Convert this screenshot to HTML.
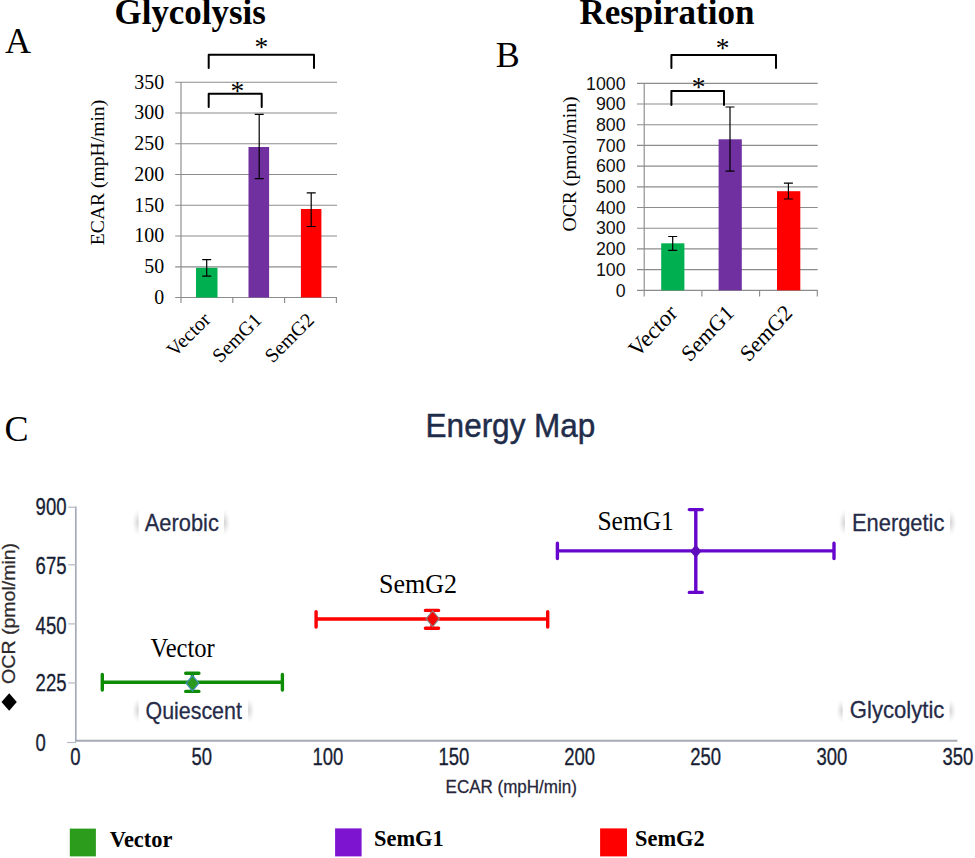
<!DOCTYPE html>
<html>
<head>
<meta charset="utf-8">
<title>Figure</title>
<style>
html,body{margin:0;padding:0;background:#fff;}
body{width:975px;height:858px;overflow:hidden;}
svg{display:block;}
.se{font-family:"Liberation Serif",serif;}
.sa{font-family:"Liberation Sans",sans-serif;}
</style>
</head>
<body>
<svg width="975" height="858" viewBox="0 0 975 858">
<rect x="0" y="0" width="975" height="858" fill="#ffffff"/>

<!-- ================= PANEL A ================= -->
<g id="panelA">
  <text class="se" x="114.6" y="24.4" font-size="34.9" font-weight="bold" fill="#000">Glycolysis</text>
  <text class="se" x="5" y="52.9" font-size="36" fill="#000">A</text>

  <!-- gridlines -->
  <g stroke="#8c8c8c" stroke-width="1.15" fill="none">
    <line x1="175.2" y1="82.2" x2="337" y2="82.2"/>
    <line x1="175.2" y1="113" x2="337" y2="113"/>
    <line x1="175.2" y1="143.7" x2="337" y2="143.7"/>
    <line x1="175.2" y1="174.5" x2="337" y2="174.5"/>
    <line x1="175.2" y1="205.2" x2="337" y2="205.2"/>
    <line x1="175.2" y1="236" x2="337" y2="236"/>
    <line x1="175.2" y1="266.8" x2="337" y2="266.8"/>
    <line x1="175.2" y1="297.5" x2="337" y2="297.5"/>
    <line x1="181" y1="82.2" x2="181" y2="303"/>
    <line x1="232.8" y1="297.5" x2="232.8" y2="303"/>
    <line x1="284.6" y1="297.5" x2="284.6" y2="303"/>
    <line x1="336.4" y1="297.5" x2="336.4" y2="303"/>
  </g>

  <!-- bars -->
  <rect x="196" y="267.8" width="21.5" height="29.7" fill="#00b050"/>
  <rect x="248.5" y="147" width="20.6" height="150.5" fill="#7030a0"/>
  <rect x="300.9" y="209" width="20.5" height="88.5" fill="#ff0000"/>

  <!-- error bars -->
  <g stroke="#000" stroke-width="1.2" fill="none">
    <path d="M206.7 259.6V276.2M202.2 259.6H211.2M202.2 276.2H211.2"/>
    <path d="M259.2 114.4V178.6M254.7 114.4H263.7M254.7 178.6H263.7"/>
    <path d="M311.2 192.8V226.5M306.7 192.8H315.7M306.7 226.5H315.7"/>
  </g>

  <!-- brackets -->
  <g stroke="#000" stroke-width="2" fill="none" stroke-linejoin="round" stroke-linecap="round">
    <path d="M208.7 68V54.7H314V68"/>
    <path d="M208.7 107V93.7H261.7V107"/>
  </g>
  <text class="se" x="261.3" y="55.8" font-size="27.5" text-anchor="middle" fill="#000">*</text>
  <text class="se" x="237.4" y="100.2" font-size="27.5" text-anchor="middle" fill="#000">*</text>

  <!-- y tick labels -->
  <g class="se" font-size="19.9" text-anchor="end" fill="#000">
    <text x="164.2" y="88.5">350</text>
    <text x="164.2" y="119.3">300</text>
    <text x="164.2" y="150">250</text>
    <text x="164.2" y="180.8">200</text>
    <text x="164.2" y="211.5">150</text>
    <text x="164.2" y="242.3">100</text>
    <text x="164.2" y="273.1">50</text>
    <text x="164.2" y="303.8">0</text>
  </g>
  <text class="se" font-size="19.6" text-anchor="middle" fill="#000" transform="translate(103.8 172.5) rotate(-90)">ECAR (mpH/min)</text>

  <!-- category labels -->
  <g class="se" font-size="20" text-anchor="end" fill="#000">
    <text transform="translate(211.6 320.8) rotate(-45)">Vector</text>
    <text transform="translate(262.8 321.2) rotate(-45)">SemG1</text>
    <text transform="translate(315.3 321.2) rotate(-45)">SemG2</text>
  </g>
</g>

<!-- ================= PANEL B ================= -->
<g id="panelB">
  <text class="se" x="579.4" y="24.4" font-size="35" font-weight="bold" fill="#000">Respiration</text>
  <text class="se" x="495.7" y="67.4" font-size="36" fill="#000">B</text>

  <g stroke="#8c8c8c" stroke-width="1.15" fill="none">
    <line x1="637" y1="83.3" x2="817.7" y2="83.3"/>
    <line x1="637" y1="104" x2="817.7" y2="104"/>
    <line x1="637" y1="124.7" x2="817.7" y2="124.7"/>
    <line x1="637" y1="145.4" x2="817.7" y2="145.4"/>
    <line x1="637" y1="166.1" x2="817.7" y2="166.1"/>
    <line x1="637" y1="186.8" x2="817.7" y2="186.8"/>
    <line x1="637" y1="207.5" x2="817.7" y2="207.5"/>
    <line x1="637" y1="228.2" x2="817.7" y2="228.2"/>
    <line x1="637" y1="248.9" x2="817.7" y2="248.9"/>
    <line x1="637" y1="269.6" x2="817.7" y2="269.6"/>
    <line x1="637" y1="290.3" x2="817.7" y2="290.3"/>
    <line x1="644.2" y1="83.3" x2="644.2" y2="296.4"/>
    <line x1="701.9" y1="290.3" x2="701.9" y2="296.4"/>
    <line x1="759.6" y1="290.3" x2="759.6" y2="296.4"/>
    <line x1="817.3" y1="290.3" x2="817.3" y2="296.4"/>
  </g>

  <rect x="661.2" y="243.3" width="23.2" height="47" fill="#00b050"/>
  <rect x="718.6" y="139.3" width="23.2" height="151" fill="#7030a0"/>
  <rect x="777" y="191.2" width="23.3" height="99.1" fill="#ff0000"/>

  <g stroke="#000" stroke-width="1.2" fill="none">
    <path d="M672.7 236.5V250.3M668.2 236.5H677.2M668.2 250.3H677.2"/>
    <path d="M730 107V171.2M725.5 107H734.5M725.5 171.2H734.5"/>
    <path d="M788.4 183.2V199M783.9 183.2H792.9M783.9 199H792.9"/>
  </g>

  <g stroke="#000" stroke-width="2" fill="none" stroke-linejoin="round" stroke-linecap="round">
    <path d="M671.4 68V55H776V68"/>
    <path d="M671.4 104.9V91H724V104.9"/>
  </g>
  <text class="se" x="722.7" y="57.2" font-size="27.5" text-anchor="middle" fill="#000">*</text>
  <text class="se" x="698.7" y="96.2" font-size="27.5" text-anchor="middle" fill="#000">*</text>

  <g class="sa" font-size="17.8" text-anchor="end" fill="#111">
    <text x="625.6" y="89.5">1000</text>
    <text x="625.6" y="110.2">900</text>
    <text x="625.6" y="130.9">800</text>
    <text x="625.6" y="151.6">700</text>
    <text x="625.6" y="172.3">600</text>
    <text x="625.6" y="193">500</text>
    <text x="625.6" y="213.7">400</text>
    <text x="625.6" y="234.4">300</text>
    <text x="625.6" y="255.1">200</text>
    <text x="625.6" y="275.8">100</text>
    <text x="625.6" y="296.5">0</text>
  </g>
  <text class="se" font-size="19.7" text-anchor="middle" fill="#000" transform="translate(575.6 164) rotate(-90)">OCR (pmol/min)</text>

  <g class="se" font-size="21.8" text-anchor="end" fill="#000">
    <text font-size="22.8" transform="translate(678.4 314.4) scale(0.975 1.05) rotate(-45)">Vector</text>
    <text transform="translate(734.9 314.2) scale(0.975 1.05) rotate(-45)">SemG1</text>
    <text transform="translate(793.5 314.2) scale(0.975 1.05) rotate(-45)">SemG2</text>
  </g>
</g>

<!-- ================= PANEL C ================= -->
<g id="panelC">
  <text class="se" x="4.5" y="440.5" font-size="36" fill="#000">C</text>
  <text class="sa" font-size="31.5" fill="#1f2d4a" stroke="#1f2d4a" stroke-width="0.45" text-anchor="middle" transform="translate(510.5 436.7) scale(1 1.05)">Energy Map</text>

  <!-- axes -->
  <g stroke="#a4abb8" fill="none">
    <line x1="75.8" y1="506.5" x2="75.8" y2="741.6" stroke-width="1.7"/>
    <line x1="75" y1="740.8" x2="957.4" y2="740.8" stroke-width="2" stroke="#a5a9b4"/>
    <g stroke-width="1.2" stroke="#b4b8c0">
      <line x1="68.2" y1="507.2" x2="76" y2="507.2"/>
      <line x1="68.2" y1="564.8" x2="76" y2="564.8"/>
      <line x1="68.2" y1="623.9" x2="76" y2="623.9"/>
      <line x1="68.2" y1="683" x2="76" y2="683"/>
      <line x1="67" y1="742.5" x2="76" y2="742.5"/>
    </g>
  </g>

  <!-- y tick labels -->
  <g class="sa" font-size="18.5" fill="#181e34" stroke="#181e34" stroke-width="0.25">
    <text transform="translate(35.6 515) scale(1 1.31)">900</text>
    <text transform="translate(35.6 574.4) scale(1 1.31)">675</text>
    <text transform="translate(35.6 633.7) scale(1 1.31)">450</text>
    <text transform="translate(35.6 690.8) scale(1 1.31)">225</text>
    <text transform="translate(35.6 750.5) scale(1 1.31)">0</text>
  </g>
  <!-- x tick labels -->
  <g class="sa" font-size="18.5" fill="#181e34" stroke="#181e34" stroke-width="0.25" text-anchor="middle">
    <text transform="translate(75.3 765.2) scale(1 1.31)">0</text>
    <text transform="translate(201.8 765.2) scale(1 1.31)">50</text>
    <text transform="translate(327.8 765.2) scale(1 1.31)">100</text>
    <text transform="translate(453.8 765.2) scale(1 1.31)">150</text>
    <text transform="translate(579.7 765.2) scale(1 1.31)">200</text>
    <text transform="translate(705.7 765.2) scale(1 1.31)">250</text>
    <text transform="translate(831.8 765.2) scale(1 1.31)">300</text>
    <text transform="translate(957.8 765.2) scale(1 1.31)">350</text>
  </g>
  <text class="sa" font-size="17" fill="#26263a" stroke="#26263a" stroke-width="0.25" text-anchor="middle" transform="translate(511.2 793.2) scale(1 1.03)">ECAR (mpH/min)</text>
  <text class="sa" font-size="17.6" fill="#2e2a2c" stroke="#2e2a2c" stroke-width="0.25" text-anchor="middle" textLength="141" lengthAdjust="spacingAndGlyphs" transform="translate(14.9 613.4) rotate(-90)">OCR (pmol/min)</text>
  <path d="M9.2 693.3L16.8 702L9.2 710.8L1.5 702Z" fill="#000"/>

  <!-- quadrant labels -->
  <defs>
    <radialGradient id="sh" cx="0.5" cy="0.5" r="0.5">
      <stop offset="0" stop-color="#8a8a8a" stop-opacity="0.40"/>
      <stop offset="0.35" stop-color="#8a8a8a" stop-opacity="0.23"/>
      <stop offset="0.7" stop-color="#8a8a8a" stop-opacity="0.08"/>
      <stop offset="1" stop-color="#8a8a8a" stop-opacity="0"/>
    </radialGradient>
  </defs>
  <g fill="url(#sh)">
    <ellipse cx="138.6" cy="522.6" rx="6.5" ry="13.5"/>
    <ellipse cx="224" cy="522.6" rx="6.5" ry="13.5"/>
    <ellipse cx="844.9" cy="522.6" rx="6.5" ry="13.5"/>
    <ellipse cx="950.1" cy="522.6" rx="6.5" ry="13.5"/>
    <ellipse cx="138.6" cy="710.4" rx="6.5" ry="12.5"/>
    <ellipse cx="248.2" cy="710.4" rx="6.5" ry="12.5"/>
    <ellipse cx="842.6" cy="710.8" rx="6.5" ry="12"/>
    <ellipse cx="949.6" cy="710.8" rx="6.5" ry="12"/>
  </g>
  <g fill="#ffffff">
    <rect x="138.6" y="507" width="85.4" height="31"/>
    <rect x="844.9" y="507" width="105.2" height="31"/>
    <rect x="138.6" y="696" width="109.6" height="29"/>
    <rect x="842.6" y="697" width="107" height="28"/>
  </g>
  <g class="sa" font-size="21.4" fill="#262b48" stroke="#262b48" stroke-width="0.25">
    <text transform="translate(144.8 530.9) scale(1 1.08)" textLength="74" lengthAdjust="spacingAndGlyphs">Aerobic</text>
    <text transform="translate(852 530.7) scale(1 1.08)" textLength="92.4" lengthAdjust="spacingAndGlyphs">Energetic</text>
    <text transform="translate(145.5 718.5) scale(1 1.08)">Quiescent</text>
    <text transform="translate(849.8 717.5) scale(1 1.08)" textLength="94.6" lengthAdjust="spacingAndGlyphs">Glycolytic</text>
  </g>

  <!-- points - Vector (green) -->
  <g stroke="#0e8c06" stroke-width="3.4" fill="none" stroke-linecap="round">
    <path d="M102.3 682.2H282.4M102.3 674.5V690M282.4 674.5V690"/>
    <path d="M192.4 673.3V691.4M185.7 673.3H198.9M185.7 691.4H198.9"/>
  </g>
  <path d="M192.5 675.6L198.8 683.2L192.5 690.9L186.2 683.2Z" fill="#2a9a1e" stroke="#3c8fae" stroke-width="1.3"/>

  <!-- points - SemG2 (red) -->
  <g stroke="#ff0000" stroke-width="3.4" fill="none" stroke-linecap="round">
    <path d="M316.1 619H547.7M316.1 611.6V627.1M547.7 611.6V627.1"/>
    <path d="M432 610.4V628.3M425.4 610.4H438.6M425.4 628.3H438.6"/>
  </g>
  <path d="M432.7 610.8L439.3 618.7L432.7 626.6L426.1 618.7Z" fill="#fa0404" stroke="#8e8080" stroke-width="1.1"/>

  <!-- points - SemG1 (purple) -->
  <g stroke="#6606cc" stroke-width="3.4" fill="none" stroke-linecap="round">
    <path d="M557.4 550.9H834M557.4 543.3V558.6M834 543.3V558.6"/>
    <path d="M695.8 509.6V592.4M689.3 509.6H702.2M689.3 592.4H702.2"/>
  </g>
  <path d="M695.8 544.8L701.5 551.2L695.8 557.7L690.1 551.2Z" fill="#5e0cbc"/>

  <!-- point labels -->
  <g class="se" font-size="24.6" fill="#000">
    <text transform="translate(150.6 657.4) scale(1 1.07)">Vector</text>
    <text transform="translate(379 593.3) scale(1 1.07)" font-size="26">SemG2</text>
    <text transform="translate(597.4 530) scale(1 1.07)" font-size="25.5">SemG1</text>
  </g>

  <!-- legend -->
  <rect x="69.8" y="828.6" width="26.1" height="27.8" fill="#2c9c1c"/>
  <rect x="335.1" y="828.4" width="26.5" height="28" fill="#7d14d0"/>
  <rect x="600.1" y="828.4" width="26.9" height="28" fill="#ff0000"/>
  <g class="se" font-size="22.4" font-weight="bold" fill="#000">
    <text transform="translate(109.8 847.3) scale(1 1.04)">Vector</text>
    <text transform="translate(374 845.7) scale(1 1.04)">SemG1</text>
    <text transform="translate(635 845.7) scale(1 1.04)">SemG2</text>
  </g>
</g>
</svg>
</body>
</html>
